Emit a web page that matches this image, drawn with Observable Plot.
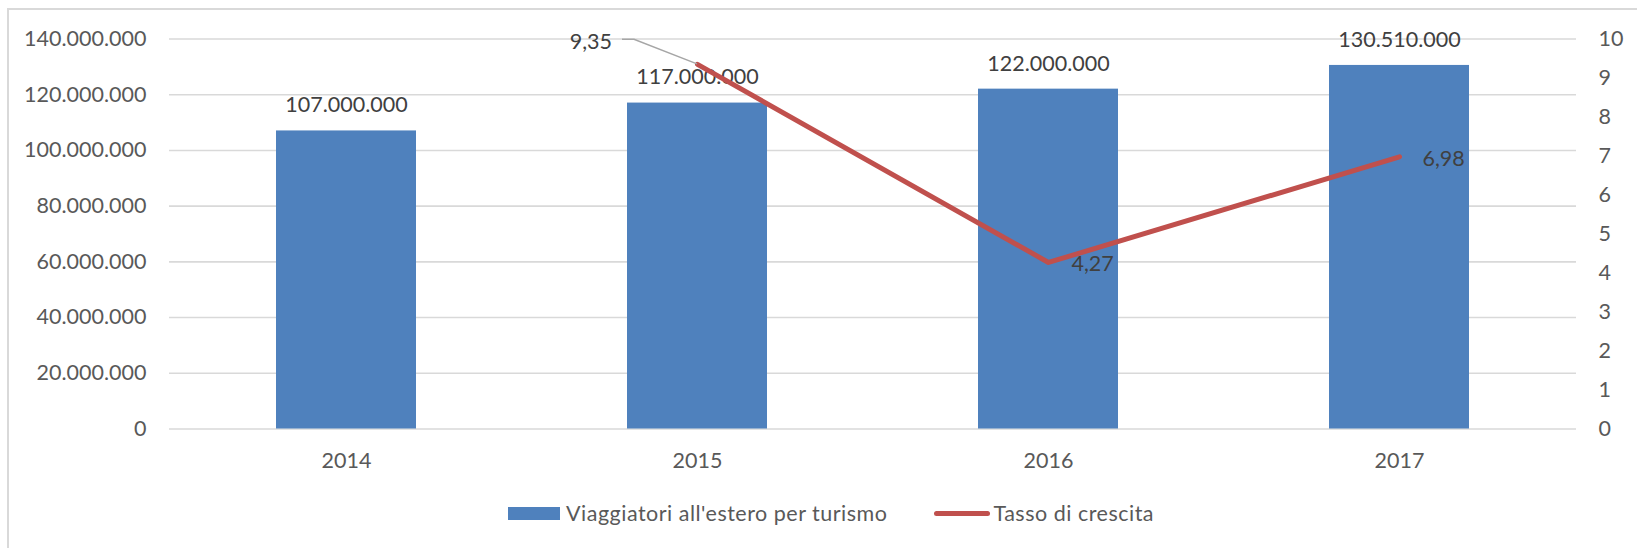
<!DOCTYPE html>
<html>
<head>
<meta charset="utf-8">
<script src="https://cdn.jsdelivr.net/npm/d3@7"></script>
<script src="https://cdn.jsdelivr.net/npm/@observablehq/plot@0.6"></script>
<style>
  html, body { margin: 0; padding: 0; background: #fff; overflow: hidden; }
  #wrap { position: relative; width: 1637px; height: 548px; font-family: Lato, "Open Sans", sans-serif; }
  #frame { position: absolute; left: 7px; top: 8px; width: 1700px; height: 600px;
           border-left: 2px solid #d9d9d9; border-top: 2px solid #d9d9d9; box-sizing: border-box; }
  #chart { position: absolute; left: 0; top: 0; }
  #legend { position: absolute; left: 508px; top: 500px; height: 26px; display: flex; align-items: center;
            font-size: 21.5px; color: #595959; white-space: nowrap; letter-spacing: 0.5px; }
  .sw-bar { width: 52px; height: 13px; background: #4F81BD; margin-right: 6px; }
  .sw-line { width: 56px; height: 5px; border-radius: 3px; background: #C0504D; margin-left: 47px; margin-right: 3px; }
</style>
</head>
<body>
<div id="wrap">
  <div id="frame"></div>
  <div id="chart"></div>
  <div id="legend"></div>
</div>
<script>
// ---- data ----
const years = ["2014", "2015", "2016", "2017"];
const travellers = [107000000, 117000000, 122000000, 130510000];
const rateYears = ["2015", "2016", "2017"];
const rates = [9.35, 4.27, 6.98];
const leftTicks = [0, 20000000, 40000000, 60000000, 80000000, 100000000, 120000000, 140000000];
const rightTicks = [0, 1, 2, 3, 4, 5, 6, 7, 8, 9, 10];
const seriesNames = ["Viaggiatori all'estero per turismo", "Tasso di crescita"];

const barData = years.map((y, i) => ({year: y, value: travellers[i]}));
const lineData = rateYears.map((y, i) => ({year: y, rate: rates[i]}));

const k = leftTicks[leftTicks.length - 1] / rightTicks[rightTicks.length - 1]; // secondary axis ratio
const itFmt = d3.formatLocale({decimal: ",", thousands: ".", grouping: [3], currency: ["€", ""]});
const fmtInt = itFmt.format(",d");
const fmtRate = itFmt.format(",.2f");

const leader = (index, scales) => {
  const d = lineData[0];
  const bw = typeof scales.x.bandwidth === "function" ? scales.x.bandwidth() : 0;
  const px = scales.x(d.year) + bw / 2;
  const py = scales.y(d.rate * k);
  return d3.create("svg:path")
    .attr("d", `M${px},${py}L${px - 63},${py - 24.5}H${px - 75}`)
    .attr("fill", "none")
    .attr("stroke", "#a6a6a6")
    .attr("stroke-width", 1.5)
    .node();
};

const chart = Plot.plot({
  width: 1637,
  height: 490,
  marginLeft: 169,
  marginRight: 61,
  marginTop: 38.5,
  marginBottom: 61.5,
  style: {fontFamily: "Lato, 'Open Sans', sans-serif", fontSize: "21.5px", color: "#595959", background: "transparent", overflow: "visible"},
  x: {domain: years, paddingInner: 0.6, paddingOuter: 0.3, label: null},
  y: {domain: [0, 140000000], label: null},
  marks: [
    Plot.ruleY(leftTicks, {stroke: "#d9d9d9", strokeWidth: 1.6}),
    Plot.barY(barData, {x: "year", y: "value", fill: "#4F81BD"}),
    Plot.axisY({ticks: leftTicks, tickFormat: fmtInt, anchor: "left", tickSize: 0, tickPadding: 23, label: null}),
    Plot.axisY({ticks: rightTicks.map(v => v * k), tickFormat: d => String(Math.round(d / k)), anchor: "right", tickSize: 0, tickPadding: 22, label: null}),
    Plot.axisX({tickSize: 0, tickPadding: 24, label: null}),
    Plot.text(barData, {x: "year", y: "value", text: d => fmtInt(d.value), dy: -25.5, fill: "#404040"}),
    Plot.lineY(lineData, {x: "year", y: d => d.rate * k, stroke: "#C0504D", strokeWidth: 5, strokeLinecap: "round", strokeLinejoin: "round"}),
    leader,
    Plot.text([lineData[0]], {x: "year", y: d => d.rate * k, text: d => fmtRate(d.rate), textAnchor: "end", dx: -85.5, dy: -22.5, fill: "#404040"}),
    Plot.text(lineData.slice(1), {x: "year", y: d => d.rate * k, text: d => fmtRate(d.rate), textAnchor: "start", dx: 23, dy: 2, fill: "#404040"})
  ]
});
document.getElementById("chart").appendChild(chart);

const legend = document.getElementById("legend");
legend.innerHTML = `<div class="sw-bar"></div><span>${seriesNames[0]}</span><div class="sw-line"></div><span>${seriesNames[1]}</span>`;
</script>
</body>
</html>
